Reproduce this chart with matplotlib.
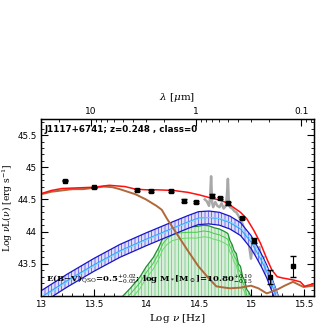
import numpy as np
import matplotlib
matplotlib.use("Agg")
from matplotlib import pyplot as plt

# photometry (log nu, log nuLnu, err)
phot_x = [13.23, 13.50, 13.91, 14.05, 14.24, 14.36, 14.48, 14.63, 14.70, 14.78, 14.91, 15.03, 15.18, 15.40]
phot_y = [44.79, 44.69, 44.64, 44.63, 44.63, 44.48, 44.46, 44.56, 44.52, 44.44, 44.21, 43.86, 43.30, 43.46]
phot_e = [0.01, 0.01, 0.015, 0.01, 0.015, 0.02, 0.02, 0.02, 0.02, 0.02, 0.02, 0.04, 0.11, 0.16]

# total model
tot_x = [13.0, 13.1, 13.2, 13.35, 13.5, 13.65, 13.8, 13.9, 14.0, 14.1, 14.26, 14.4, 14.51, 14.6, 14.7,
         14.77, 14.83, 14.9, 14.96, 15.03, 15.09, 15.15, 15.2, 15.25, 15.3, 15.4, 15.47, 15.51, 15.55, 15.6]
tot_y = [44.59, 44.64, 44.67, 44.68, 44.69, 44.72, 44.70, 44.66, 44.65, 44.65, 44.64, 44.61, 44.57, 44.53, 44.49,
         44.45, 44.38, 44.30, 44.20, 44.01, 43.82, 43.58, 43.40, 43.30, 43.28, 43.25, 43.22, 43.15, 43.17, 43.19]

# torus
tor_x = [13.0, 13.1, 13.2, 13.3, 13.4, 13.5, 13.6, 13.68, 13.75, 13.9, 14.0, 14.1, 14.15, 14.2, 14.3, 14.4,
         14.5, 14.6, 14.67, 14.75, 14.8, 14.9, 15.0, 15.07, 15.15, 15.25, 15.32, 15.4, 15.5, 15.6]
tor_y = [44.58, 44.62, 44.64, 44.66, 44.66, 44.68, 44.70, 44.69, 44.66, 44.58, 44.50, 44.40, 44.34, 44.20, 43.95, 43.70,
         43.46, 43.27, 43.15, 43.13, 43.12, 43.13, 43.16, 43.12, 43.04, 43.10, 43.16, 43.22, 43.14, 43.16]

# reddened accretion disk (centre of band)
agn_x = [12.9, 13.0, 13.25, 13.5, 13.75, 14.0, 14.25, 14.4, 14.5, 14.6, 14.7, 14.8, 14.9, 15.0, 15.05,
         15.1, 15.15, 15.2, 15.25, 15.3]
agn_y = [42.88, 42.98, 43.24, 43.48, 43.70, 43.88, 44.05, 44.15, 44.21, 44.22, 44.20, 44.14, 44.04, 43.84, 43.70,
         43.55, 43.38, 43.17, 42.95, 42.7]
agn_w = 0.10

# host galaxy (upper envelope)
gal_x = [13.75, 13.78, 13.85, 13.94, 14.0, 14.07, 14.12, 14.16, 14.2, 14.25, 14.32, 14.4, 14.48, 14.55, 14.6,
         14.65, 14.7, 14.75, 14.78, 14.8, 14.82, 14.84, 14.86, 14.88, 14.9, 14.92, 14.94, 14.96, 14.98, 15.0, 15.03]
gal_y = [42.95, 43.0, 43.12, 43.29, 43.45, 43.60, 43.75, 43.90, 43.98, 44.04, 44.07, 44.08, 44.08, 44.10, 44.09,
         44.06, 44.04, 44.00, 43.97, 43.86, 43.80, 43.70, 43.66, 43.50, 43.46, 43.30, 43.24, 43.10, 43.06, 42.98, 42.9]

# observed spectrum
spec_x = [14.56, 14.58, 14.60, 14.61, 14.62, 14.63, 14.64, 14.66, 14.68, 14.70, 14.72, 14.74, 14.76, 14.77,
          14.78, 14.79, 14.80, 14.82, 14.84, 14.86, 14.88, 14.90, 14.92, 14.94, 14.96, 14.98, 15.00, 15.02,
          15.04, 15.06, 15.08, 15.10, 15.12]
spec_y = [44.50, 44.47, 44.40, 44.52, 44.86, 44.45, 44.38, 44.46, 44.40, 44.38, 44.44, 44.36, 44.40, 44.55,
          44.82, 44.42, 44.38, 44.36, 44.32, 44.30, 44.25, 44.18, 44.12, 44.02, 43.95, 43.80, 43.58, 43.88,
          43.78, 43.66, 43.76, 43.52, 43.60]

lam_major = [10, 1, 0.1]
lam_labels = ['10', '1', '0.1']

plt.rcParams['mathtext.fontset'] = 'dejavuserif'
plt.rcParams['hatch.linewidth'] = 0.45

fig = plt.figure(figsize=(3.32, 3.32), dpi=100)
ax = fig.add_axes([41 / 332, 36 / 332, 273 / 332, 177 / 332])

ax.plot(spec_x, spec_y, color='#a8a8a8', lw=1.8, zorder=2)

gx = np.array(gal_x)
gy = np.array(gal_y)
ax.fill_between(gx, 42.9, gy, facecolor='#d8eedb', edgecolor='#5cc06a', hatch='|||||', lw=0, zorder=3)
ax.plot(gx, gy - 0.18, color='#66dd66', lw=0.7, zorder=3)
ax.plot(gx, gy - 0.09, color='#44cc44', lw=0.7, zorder=3)
ax.plot(gx, gy, color='#1f8f2f', lw=0.9, zorder=3)

axx = np.array(agn_x)
ayy = np.array(agn_y)
ax.fill_between(axx, ayy - agn_w, ayy + agn_w, facecolor='#e0dcf6', edgecolor='#3a3ae0', hatch='|||||', lw=0, zorder=4)
ax.plot(axx, ayy + agn_w, color='#1515c8', lw=0.9, zorder=4)
ax.plot(axx, ayy - agn_w, color='#1515c8', lw=0.9, zorder=4)
ax.plot(axx, ayy, color='#20a8ff', lw=0.8, zorder=4)
ax.plot(axx + 0.02, ayy, color='#7fd8ff', lw=0.6, zorder=4)

ax.plot(tor_x, tor_y, color='#b0683a', lw=1.4, zorder=5)
ax.plot(tot_x, tot_y, color='#ff1010', lw=1.1, zorder=6)

ax.errorbar(phot_x, phot_y, yerr=phot_e, fmt='s', color='black', ms=3, lw=0.8, capsize=2, zorder=7)

ax.set_xlim(13, 15.6)
ax.set_ylim(43, 45.75)
ax.set_xticks([13, 13.5, 14, 14.5, 15, 15.5])
ax.set_xticklabels(['13', '13.5', '14', '14.5', '15', '15.5'])
ax.set_xticks(np.arange(13, 15.61, 0.1), minor=True)
ax.set_yticks([43.5, 44, 44.5, 45, 45.5])
ax.set_yticklabels(['43.5', '44', '44.5', '45', '45.5'])
ax.set_yticks(np.arange(43, 45.76, 0.1), minor=True)
ax.tick_params(which='both', direction='in', right=True, labelsize=6.3, pad=3)
ax.tick_params(which='major', length=5, width=0.8)
ax.tick_params(which='minor', length=2.5, width=0.6)
ax.tick_params(axis='x', which='both', top=False)
for s in ax.spines.values():
    s.set_linewidth(1.0)

ax.set_xlabel(r'Log $\nu$ [Hz]', family='DejaVu Serif', fontsize=7.5, labelpad=2)
ax.set_ylabel(r'Log $\nu$L($\nu$) [erg s$^{-1}$]', family='DejaVu Serif', fontsize=6.6)
ax.yaxis.set_label_coords(-0.095, 0.5)

# top wavelength axis
c_um = 2.998e14
top = ax.twiny()
top.set_xlim(ax.get_xlim())
top.set_xticks([np.log10(c_um / l) for l in lam_major])
top.set_xticklabels(lam_labels)
minor_lam = [30, 20, 9, 8, 7, 6, 5, 4, 3, 2, 0.9, 0.8, 0.7, 0.6, 0.5, 0.4, 0.3, 0.2, 0.09, 0.08]
top.set_xticks([np.log10(c_um / l) for l in minor_lam], minor=True)
top.tick_params(which='both', direction='in', labelsize=6.5, pad=2)
top.tick_params(which='major', length=5, width=0.8)
top.tick_params(which='minor', length=2.5, width=0.6)
top.set_xlabel(r'$\lambda$ [$\mu$m]', family='DejaVu Serif', fontsize=7.5, labelpad=5)

ax.text(0.012, 0.965, 'J1117+6741; z=0.248 , class=0', transform=ax.transAxes, fontsize=6.3,
        fontweight='bold', va='top', ha='left', zorder=8)
ax.text(0.02, 0.095, r'E(B$-$V)$_{\rm QSO}$=0.5$^{+0.02}_{-0.05}$; log M$_*$[M$_\odot$]=10.80$^{+0.10}_{-0.15}$',
        transform=ax.transAxes, fontsize=6.1, family='DejaVu Serif', fontweight='bold', va='center', ha='left', zorder=8)

fig.savefig('out.png', dpi=100)
